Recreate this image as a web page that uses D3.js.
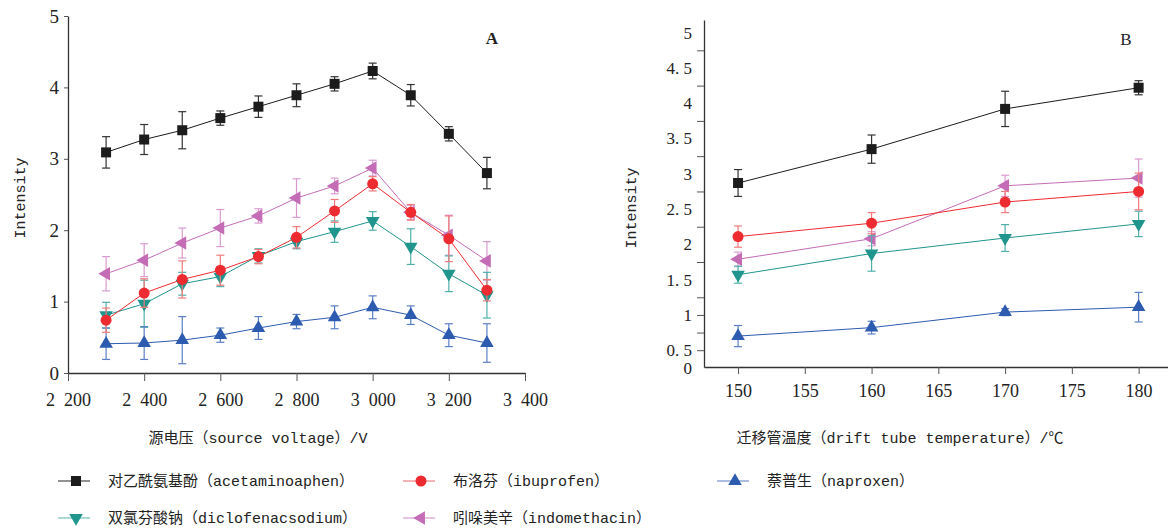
<!DOCTYPE html>
<html>
<head>
<meta charset="utf-8">
<script src="https://cdn.jsdelivr.net/npm/d3@7"></script>
<style>
  body { margin: 0; background: #fff; }
  svg { display: block; }
  .tick text { font-family: "Liberation Serif", serif; fill: #222; white-space: pre; }
  .mono { font-family: "Liberation Mono", "Noto Sans CJK SC", monospace; fill: #222; }
</style>
</head>
<body>
<svg width="1168" height="528"></svg>
<script>
// Panel A: source voltage (V)
var voltages = [2300, 2400, 2500, 2600, 2700, 2800, 2900, 3000, 3100, 3200, 3300];
var voltTicks = [2200, 2400, 2600, 2800, 3000, 3200, 3400];

var acetA    = [3.09, 3.27, 3.40, 3.57, 3.73, 3.89, 4.05, 4.23, 3.89, 3.35, 2.80];
var acetAErr = [0.22, 0.21, 0.26, 0.10, 0.15, 0.16, 0.10, 0.11, 0.15, 0.10, 0.22];
var ibuA     = [0.74, 1.12, 1.31, 1.44, 1.63, 1.90, 2.27, 2.65, 2.25, 1.88, 1.16];
var ibuAErr  = [0.17, 0.20, 0.26, 0.21, 0.10, 0.15, 0.16, 0.10, 0.11, 0.32, 0.15];
var napA     = [0.41, 0.42, 0.46, 0.53, 0.63, 0.72, 0.78, 0.92, 0.81, 0.53, 0.42];
var napAErr  = [0.22, 0.23, 0.33, 0.10, 0.16, 0.10, 0.16, 0.16, 0.13, 0.16, 0.27];
var dicA     = [0.81, 0.97, 1.25, 1.35, 1.64, 1.84, 1.98, 2.13, 1.77, 1.39, 1.09];
var dicAErr  = [0.18, 0.33, 0.16, 0.14, 0.10, 0.10, 0.15, 0.13, 0.25, 0.25, 0.32];
var indoA    = [1.39, 1.58, 1.82, 2.03, 2.20, 2.45, 2.62, 2.87, 2.25, 1.93, 1.57];
var indoAErr = [0.24, 0.23, 0.21, 0.26, 0.10, 0.27, 0.11, 0.11, 0.10, 0.28, 0.27];

// Panel B: drift tube temperature (°C)
var temps = [150, 160, 170, 180];
var tempTicks = [150, 155, 160, 165, 170, 175, 180];

var acetB    = [2.87, 3.35, 3.92, 4.22];
var acetBErr = [0.19, 0.20, 0.25, 0.10];
var ibuB     = [2.11, 2.30, 2.60, 2.75];
var ibuBErr  = [0.15, 0.15, 0.15, 0.26];
var napB     = [0.70, 0.82, 1.04, 1.11];
var napBErr  = [0.15, 0.09, 0.05, 0.21];
var dicB     = [1.57, 1.87, 2.09, 2.29];
var dicBErr  = [0.12, 0.25, 0.19, 0.18];
var indoB    = [1.79, 2.08, 2.83, 2.94];
var indoBErr = [0.10, 0.10, 0.15, 0.27];

var yTicksA = [0, 1, 2, 3, 4, 5];
var yLabelsB = [0.5, 1, 1.5, 2, 2.5, 3, 3.5, 4, 4.5, 5];
var yMinorB = [0.5, 0.75, 1, 1.25, 1.75, 2.25, 2.75, 3.25, 3.75, 4.25, 4.75];

var seriesStyle = [
    {key: 'acet', name: '对乙酰氨基酚（acetaminoaphen）', color: '#1c1c1c', err: '#333', legendLine: '#555', shape: 'square'},
    {key: 'ibu',  name: '布洛芬（ibuprofen）', color: '#ee2b30', err: '#f27a7c', legendLine: '#f08a8c', shape: 'circle'},
    {key: 'nap',  name: '萘普生（naproxen）', color: '#2d5bb0', err: '#5b7fc6', legendLine: '#7f9bd2', shape: 'up'},
    {key: 'dic',  name: '双氯芬酸钠（diclofenacsodium）', color: '#1f958d', err: '#4fb0a9', legendLine: '#7cc6c0', shape: 'down'},
    {key: 'indo', name: '吲哚美辛（indomethacin）', color: '#c46cb6', err: '#d99bcf', legendLine: '#d9a2d0', shape: 'left'}
];

var dataA = {acet: [acetA, acetAErr], ibu: [ibuA, ibuAErr], nap: [napA, napAErr], dic: [dicA, dicAErr], indo: [indoA, indoAErr]};
var dataB = {acet: [acetB, acetBErr], ibu: [ibuB, ibuBErr], nap: [napB, napBErr], dic: [dicB, dicBErr], indo: [indoB, indoBErr]};

var svg = d3.select('svg');

function drawMarker(g, shape, color) {
    if (shape === 'square') {
        g.append('rect').attr('x', -5).attr('y', -5).attr('width', 10).attr('height', 10).attr('fill', color);
    } else if (shape === 'circle') {
        g.append('circle').attr('r', 5.5).attr('fill', color);
    } else {
        var rot = {up: 0, down: 180, left: -90}[shape];
        g.append('path')
            .attr('d', d3.symbol().type(d3.symbolTriangle).size(80)())
            .attr('transform', 'rotate(' + rot + ')')
            .attr('fill', color);
    }
}

function drawSeries(g, xs, data, x, y) {
    // draw in reverse so black ends on top
    seriesStyle.slice().reverse().forEach(function(s) {
        var vals = data[s.key][0], errs = data[s.key][1];
        var pts = xs.map(function(xv, i) { return {x: xv, y: vals[i], e: errs[i]}; });
        var sg = g.append('g');
        sg.append('path')
            .datum(pts)
            .attr('fill', 'none')
            .attr('stroke', s.color)
            .attr('stroke-width', 1)
            .attr('d', d3.line().x(function(d) { return x(d.x); }).y(function(d) { return y(d.y); }));
        var eb = sg.selectAll('.eb').data(pts).enter().append('g')
            .attr('stroke', s.err).attr('stroke-width', 1.2);
        eb.append('line')
            .attr('x1', function(d) { return x(d.x); }).attr('x2', function(d) { return x(d.x); })
            .attr('y1', function(d) { return y(d.y - d.e); }).attr('y2', function(d) { return y(d.y + d.e); });
        eb.append('line')
            .attr('x1', function(d) { return x(d.x) - 4; }).attr('x2', function(d) { return x(d.x) + 4; })
            .attr('y1', function(d) { return y(d.y + d.e); }).attr('y2', function(d) { return y(d.y + d.e); });
        eb.append('line')
            .attr('x1', function(d) { return x(d.x) - 4; }).attr('x2', function(d) { return x(d.x) + 4; })
            .attr('y1', function(d) { return y(d.y - d.e); }).attr('y2', function(d) { return y(d.y - d.e); });
        pts.forEach(function(d) {
            var m = sg.append('g').attr('transform', 'translate(' + [x(d.x), y(d.y)] + ')');
            drawMarker(m, s.shape, s.color);
        });
    });
}

function styleAxis(g) {
    g.select('.domain').attr('stroke', '#333').attr('stroke-width', 1.3);
    g.selectAll('.tick line').attr('stroke', '#555');
}

// ---------- Panel A ----------
var xA = d3.scaleLinear().domain([2200, 3400]).range([68, 525]);
var yA = d3.scaleLinear().domain([0, 5]).range([373, 16]);

var gA = svg.append('g');
gA.append('g')
    .attr('transform', 'translate(0,' + yA(0) + ')')
    .call(d3.axisBottom(xA).tickValues(voltTicks).tickSize(8).tickSizeOuter(0).tickPadding(12)
        .tickFormat(function(d) { return d3.format(',')(d).replace(',', '  '); }))
    .call(styleAxis)
    .selectAll('text').attr('font-size', 18);
gA.append('g')
    .attr('transform', 'translate(' + xA(2200) + ',0)')
    .call(d3.axisLeft(yA).tickValues(yTicksA).tickSize(4).tickSizeOuter(0).tickPadding(5).tickFormat(d3.format('d')))
    .call(styleAxis)
    .selectAll('text').attr('font-size', 19);
drawSeries(gA, voltages, dataA, xA, yA);
gA.append('text').attr('x', 492).attr('y', 44).attr('text-anchor', 'middle')
    .attr('font-family', 'Liberation Serif').attr('font-size', 17).attr('font-weight', 'bold').attr('fill', '#222').text('A');
gA.append('text').attr('class', 'mono').attr('font-size', 15).attr('text-anchor', 'middle')
    .attr('transform', 'translate(25,198) rotate(-90)').text('Intensity');
gA.append('text').attr('class', 'mono').attr('font-size', 15).attr('text-anchor', 'middle')
    .attr('x', 258).attr('y', 443).text('源电压（source voltage）/V');

// ---------- Panel B ----------
var xB = d3.scaleLinear().domain([147.45, 182.2]).range([704, 1168]);
var yB = d3.scaleLinear().domain([0.262, 5.18]).range([367, 20]);

var gB = svg.append('g');
gB.append('g')
    .attr('transform', 'translate(0,' + yB.range()[0] + ')')
    .call(d3.axisBottom(xB).tickValues(tempTicks).tickSize(7).tickSizeOuter(0).tickPadding(10).tickFormat(d3.format('d')))
    .call(styleAxis)
    .selectAll('text').attr('font-size', 18);
gB.append('g')
    .attr('transform', 'translate(' + xB.range()[0] + ',0)')
    .call(d3.axisLeft(yB).tickValues(yMinorB).tickSize(7).tickSizeOuter(0).tickFormat(''))
    .call(styleAxis);
gB.append('g')
    .attr('transform', 'translate(' + xB.range()[0] + ',0)')
    .call(d3.axisLeft(yB).tickValues(yLabelsB).tickSize(0).tickPadding(12)
        .tickFormat(function(d) { return d % 1 ? String(d).replace('.', '. ') : d; }))
    .call(function(g) { g.select('.domain').remove(); })
    .selectAll('text').attr('font-size', 17);
gB.append('text').attr('x', xB.range()[0] - 12).attr('y', yB.range()[0]).attr('dy', '0.4em')
    .attr('text-anchor', 'end').attr('font-family', 'Liberation Serif').attr('font-size', 17).attr('fill', '#222').text('0');
drawSeries(gB, temps, dataB, xB, yB);
gB.append('text').attr('x', 1126).attr('y', 45).attr('text-anchor', 'middle')
    .attr('font-family', 'Liberation Serif').attr('font-size', 17).attr('fill', '#222').text('B');
gB.append('text').attr('class', 'mono').attr('font-size', 15).attr('text-anchor', 'middle')
    .attr('transform', 'translate(636,208) rotate(-90)').text('Intensity');
gB.append('text').attr('class', 'mono').attr('font-size', 15).attr('text-anchor', 'middle')
    .attr('x', 900).attr('y', 443).text('迁移管温度（drift tube temperature）/℃');

// ---------- Legend ----------
var legendPos = [[58, 481], [403, 481], [717, 481], [58, 518], [403, 518]];
var legend = svg.append('g');
seriesStyle.forEach(function(s, i) {
    var p = legendPos[i];
    var lg = legend.append('g').attr('transform', 'translate(' + p + ')');
    lg.append('line').attr('x1', 0).attr('x2', 32).attr('stroke', s.legendLine).attr('stroke-width', 1.3);
    var m = lg.append('g').attr('transform', 'translate(18,0)');
    drawMarker(m, s.shape, s.color);
    lg.append('text').attr('class', 'mono').attr('font-size', 15).attr('x', 50).attr('dy', '0.35em').text(s.name);
});
</script>
</body>
</html>
